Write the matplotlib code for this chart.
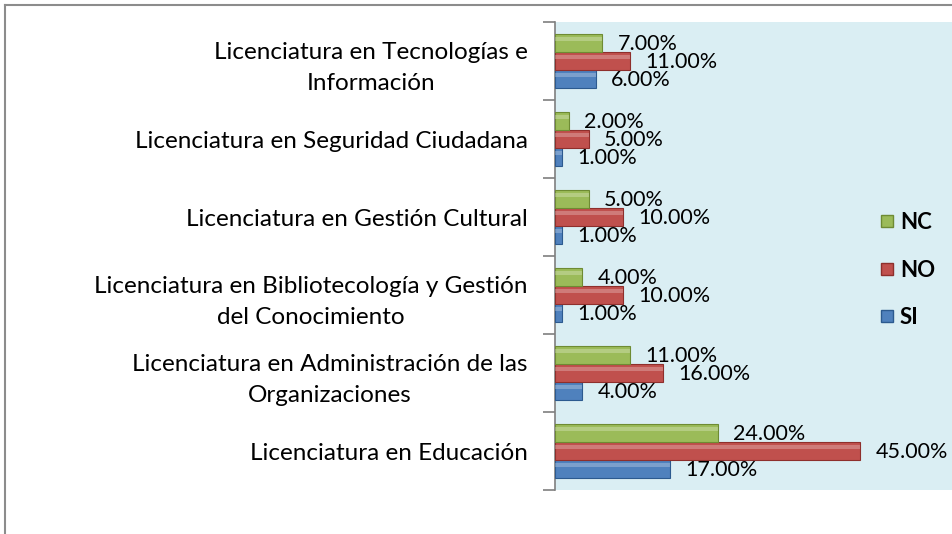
import numpy as np
import matplotlib.pyplot as plt
from matplotlib.lines import Line2D

categorias = [
    "Licenciatura en Educación",
    "Licenciatura en Administración de las\nOrganizaciones",
    "Licenciatura en Bibliotecología y Gestión\ndel Conocimiento",
    "Licenciatura en Gestión Cultural",
    "Licenciatura en Seguridad Ciudadana",
    "Licenciatura en Tecnologías e\nInformación",
]
si = [17, 4, 1, 1, 1, 6]
no = [45, 16, 10, 10, 5, 11]
nc = [24, 11, 4, 5, 2, 7]

series = [("SI", si, "#4F81BD", "#2C5A8F"),
          ("NO", no, "#C0504D", "#8E2F2C"),
          ("NC", nc, "#9BBB59", "#6E8B33")]

plt.rcParams['font.family'] = ['Lato', 'DejaVu Sans']

fig = plt.figure(figsize=(9.53, 5.34), dpi=100)
ax = fig.add_axes([555/953, 1-490/534, 1-555/953, (490-22)/534])
ax.set_facecolor("#DAEEF3")

y = np.arange(len(categorias))
h = 0.23
for i, (nombre, vals, col, borde) in enumerate(series):
    pos = y + (i - 1) * h
    ax.barh(pos, vals, height=h, color=col, edgecolor=borde, linewidth=0.8, zorder=3)
    # brillo superior
    ax.barh(pos + h * 0.22, vals, height=h * 0.25, color="white", alpha=0.25,
            linewidth=0, zorder=4)
    for p, v in zip(pos, vals):
        ax.annotate("{:.2f}%".format(v), (v, p), xytext=(11, -1),
                    textcoords="offset points", va="center", ha="left",
                    fontsize=15.5, color="black", zorder=5)

ax.set_xlim(0, (953 - 555) / 6.78)
ax.set_ylim(-0.5, len(categorias) - 0.5)
ax.set_xticks([])
ax.set_yticks(y)
ax.set_yticklabels(categorias, fontsize=17.5, ha="right", multialignment="center",
                   linespacing=1.6)
ax.tick_params(axis="y", which="major", length=0, pad=19.5)
ax.set_yticks(np.arange(-0.5, len(categorias)), minor=True)
ax.tick_params(axis="y", which="minor", length=9, color="#7F7F7F", width=1.2)
for s in ["top", "right", "bottom"]:
    ax.spines[s].set_visible(False)
ax.spines["left"].set_color("#7F7F7F")
ax.spines["left"].set_linewidth(1.2)

# leyenda
handles = [Line2D([], [], marker="s", linestyle="", markersize=8,
                  markerfacecolor=col, markeredgecolor=borde, label=nombre)
           for nombre, vals, col, borde in series[::-1]]
leg = ax.legend(handles=handles, loc="center left", bbox_to_anchor=(0.755, 0.47),
                frameon=False, prop={"weight": "bold", "size": 16},
                labelspacing=1.2, handletextpad=0.1, handlelength=1.0)

# marco exterior
fig.add_artist(Line2D([5/953, 5/953], [0, 1-5/534], color="#8C8C8C", lw=1.5))
fig.add_artist(Line2D([5/953, 1], [1-5/534, 1-5/534], color="#8C8C8C", lw=1.5))

fig.savefig("out.png", dpi=100)
